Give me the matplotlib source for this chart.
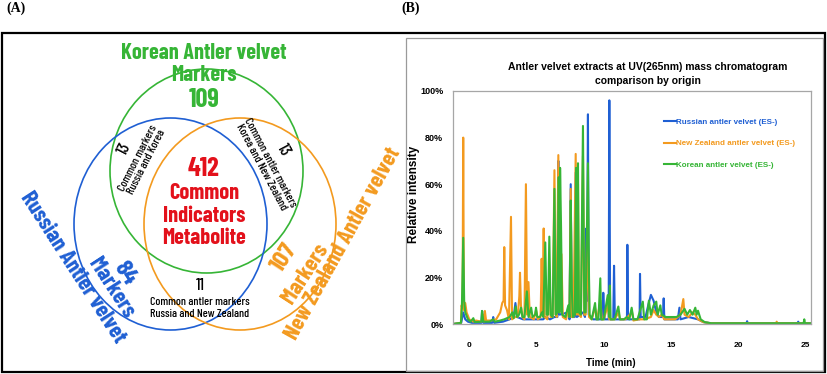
import matplotlib
matplotlib.use("Agg")
import matplotlib.pyplot as plt
from matplotlib.patches import Ellipse, Rectangle

# ---- Venn data (A) ----
venn_names = ["Korean Antler velvet", "Russian Antler velvet", "New Zealand Antler velvet"]
venn_only = [109, 84, 107]
venn_common = 412
pair_counts = [13, 13, 11]  # Russia&Korea, Korea&NZ, Russia&NZ

# ---- chromatogram data (B), time (min) / relative intensity (%) ----
ru_time = [-1.2, -0.6, -0.45, -0.3, -0.1, 0.2, 0.9, 0.95, 1.05, 1.7, 1.78, 1.85, 2.5, 3.0, 3.3, 3.43, 3.55,
           4.0, 4.5, 5.0, 5.5, 5.65, 6.0, 6.33, 6.55, 6.62, 6.7, 7.36, 7.45, 7.54, 7.62, 7.84, 7.91, 8.0, 8.45,
           8.6, 8.7, 8.75, 8.82, 8.88, 9.2, 9.9, 9.96, 10.05, 10.36, 10.41, 10.47, 10.7, 10.76, 10.82, 11.5,
           11.72, 11.75, 11.8, 12.3, 12.66, 12.69, 12.74, 13.1, 13.3, 13.5, 13.7, 13.9, 14.1, 14.4, 14.45, 14.5,
           15.0, 15.5, 15.62, 15.7, 16.3, 17.0, 17.4, 18.0, 20.6, 20.65, 20.7, 24.4, 24.45, 24.5, 25.4]
ru_val = [0, 0.5, 5, 2, 1, 0.5, 0.5, 5.6, 0.5, 0.5, 3, 0.5, 1, 2, 3, 9, 3,
          2, 2, 2, 2, 3, 2, 3, 3, 70, 4, 5, 2, 60, 3, 3, 65, 3, 5,
          3, 41, 10, 90, 4, 2, 2, 13.4, 2, 2, 96, 2, 2, 25, 2, 2,
          2, 34, 2, 2, 2, 21.5, 3, 3, 8, 12.5, 10, 5, 3, 3, 11, 2,
          2, 2, 7, 2, 3, 2, 0.8, 0.3, 0.3, 1.2, 0.3, 0.3, 1, 0.3, 0.3]

nz_time = [-1.2, -0.62, -0.58, -0.5, -0.45, -0.4, -0.3, -0.2, 0.0, 0.3, 0.5, 0.9, 1.0, 1.1, 1.16, 1.25, 1.6,
           2.0, 2.3, 2.45, 2.55, 2.6, 2.66, 2.8, 2.95, 3.1, 3.18, 3.4, 3.6, 3.72, 3.77, 3.84, 3.95, 4.1, 4.21,
           4.3, 4.4, 4.5, 4.8, 4.96, 5.1, 5.3, 5.38, 5.45, 5.53, 5.6, 5.8, 5.95, 6.05, 6.2, 6.33, 6.42, 6.5,
           6.62, 6.7, 6.85, 6.95, 7.2, 7.36, 7.45, 7.54, 7.62, 7.75, 7.91, 8.0, 8.08, 8.15, 8.3, 8.45, 8.55,
           8.65, 8.77, 8.82, 8.9, 9.1, 9.35, 9.5, 9.75, 9.85, 10.0, 10.3, 10.4, 10.8, 11.1, 11.2, 11.6, 12.1,
           12.2, 12.6, 13.0, 13.5, 13.7, 13.9, 14.1, 14.3, 14.5, 14.8, 15.3, 15.7, 15.91, 16.0, 16.3, 16.6,
           16.8, 17.0, 17.4, 18.0, 22.8, 22.85, 22.9, 25.4]
nz_val = [0, 0.5, 8, 7, 80, 6, 9, 5, 2, 1, 1.5, 1, 4, 1, 5.6, 1.5, 1.5,
          2, 5, 9, 10, 33, 8, 6, 2, 46, 2, 3, 3, 12, 22, 8, 3, 2, 60,
          4, 18, 3, 2, 6, 2, 3, 28, 4, 41, 3, 2, 20, 3, 3, 66, 4, 3,
          72.5, 5, 30, 3, 2, 7, 3, 58, 3, 3, 73, 4, 60, 4, 3, 72, 4,
          4, 44, 20, 3, 2, 7, 2, 10, 2, 2, 8, 2, 2, 5, 2, 2, 5,
          1.5, 2, 2, 3, 6, 4, 3, 4, 2, 2, 2, 4, 10.7, 4, 3, 5,
          4, 2, 0.8, 0.3, 0.3, 1, 0.3, 0.3]

kr_time = [-1.2, -0.62, -0.55, -0.45, -0.38, -0.3, -0.1, 0.1, 0.3, 0.4, 0.9, 0.95, 1.05, 1.5, 1.78, 1.9,
           2.3, 2.6, 3.0, 3.2, 3.3, 3.45, 3.55, 3.7, 3.85, 3.95, 4.1, 4.28, 4.4, 4.6, 4.7, 4.9, 4.96, 5.05,
           5.25, 5.4, 5.5, 5.65, 5.75, 5.85, 5.95, 6.05, 6.2, 6.33, 6.42, 6.55, 6.65, 6.7, 6.75, 6.82, 6.9,
           7.15, 7.36, 7.45, 7.54, 7.62, 7.7, 7.85, 7.94, 8.0, 8.08, 8.15, 8.3, 8.45, 8.55, 8.65, 8.82, 8.9,
           8.95, 9.1, 9.35, 9.45, 9.6, 9.74, 9.8, 10.0, 10.29, 10.4, 10.45, 10.5, 10.8, 11.08, 11.2, 11.5,
           11.7, 11.9, 12.07, 12.2, 12.5, 12.9, 13.0, 13.2, 13.35, 13.5, 13.7, 13.9, 14.0, 14.2, 14.3, 14.6,
           15.0, 15.4, 15.7, 16.0, 16.2, 16.4, 16.6, 16.8, 16.9, 17.0, 17.2, 17.5, 18.0, 24.85, 24.9, 24.95, 25.4]
kr_val = [0, 0.5, 7, 37, 10, 5, 2, 1, 2.5, 0.8, 1, 5.6, 1, 1, 2, 1,
          1.5, 2, 3, 5, 2.5, 7.5, 3, 4, 7, 3, 3, 14, 3, 7, 3, 4, 7, 3,
          3, 5, 3, 35, 4, 4, 37.5, 4, 3, 58, 4, 5, 63, 5, 67, 42, 4,
          3, 8, 3, 53, 15, 3, 4, 67, 5, 69, 5, 4, 85, 5, 5, 69, 20,
          4, 2, 9, 2, 2, 19.6, 2, 2, 12.4, 3, 16.5, 2, 2, 7.5, 2, 2,
          3, 2, 7, 2, 2, 9.6, 2, 2, 10, 4, 8, 9.6, 4, 8, 4, 3,
          3, 3, 4, 6.5, 4, 6, 4, 7, 4, 5.7, 2, 0.8, 0.3, 0.3, 2, 0.3, 0.3]

series_labels = ["Russian antler velvet (ES-)", "New Zealand antler velvet (ES-)", "Korean antler velvet (ES-)"]
y_ticks = [0, 20, 40, 60, 80, 100]
x_ticks = [0, 5, 10, 15, 20, 25]

BLUE = "#1f5fd3"
ORANGE = "#f39a1f"
GREEN = "#36b536"
RED = "#e3111b"
NARROW = ["Barlow Condensed", "Archivo Narrow", "DejaVu Sans"]
SANS = ["Liberation Sans", "DejaVu Sans"]

fig = plt.figure(figsize=(8.27, 3.74), dpi=100)

# background axes in pixel coordinates
ax0 = fig.add_axes([0, 0, 1, 1])
ax0.set_xlim(0, 827)
ax0.set_ylim(374, 0)
ax0.axis("off")

ax0.text(6, 2, "(A)", family="Liberation Serif", fontweight="bold", fontsize=10, ha="left", va="top")
ax0.text(401, 2, "(B)", family="Liberation Serif", fontweight="bold", fontsize=10, ha="left", va="top")
ax0.add_patch(Rectangle((2, 33), 823, 339, fill=False, ec="black", lw=1.6))
ax0.add_patch(Rectangle((406, 38), 417, 333, fill=False, ec="#9a9a9a", lw=0.9))

# Venn circles
ax0.add_patch(Ellipse((206.5, 171), 193, 204, fill=False, ec=GREEN, lw=1.2))
ax0.add_patch(Ellipse((170.5, 224), 193, 212, fill=False, ec=BLUE, lw=1.2))
ax0.add_patch(Ellipse((240, 224), 192, 212, fill=False, ec=ORANGE, lw=1.2))

big = dict(family=NARROW, fontweight="bold", ha="center", va="center")

# Korean labels
ax0.text(204, 53, venn_names[0], fontsize=16, color=GREEN, **big)
ax0.text(204, 75, "Markers", fontsize=16, color=GREEN, **big)
ax0.text(204, 100, str(venn_only[0]), fontsize=19, color=GREEN, **big)

# center
ax0.text(204, 169, str(venn_common), fontsize=19, color=RED, **big)
for yy, word in zip([193, 216, 238], ["Common", "Indicators", "Metabolite"]):
    ax0.text(204, yy, word, fontsize=16, color=RED, **big)

# Russian labels
ax0.text(73, 267, venn_names[1], fontsize=16.5, color=BLUE, rotation=-57, rotation_mode="anchor", **big)
ax0.text(111, 288, "Markers", fontsize=16.5, color=BLUE, rotation=-57, rotation_mode="anchor", **big)
ax0.text(125, 273, str(venn_only[1]), fontsize=18, color=BLUE, rotation=-57, rotation_mode="anchor", **big)

# New Zealand labels
ax0.text(343, 244, venn_names[2], fontsize=16.5, color=ORANGE, rotation=61, rotation_mode="anchor", **big)
ax0.text(305, 274, "Markers", fontsize=16.5, color=ORANGE, rotation=57, rotation_mode="anchor", **big)
ax0.text(285, 258, str(venn_only[2]), fontsize=18, color=ORANGE, rotation=57, rotation_mode="anchor", **big)

# pairwise overlaps
small = dict(family=NARROW, fontweight="medium", ha="center", va="center")
ax0.text(124, 149, str(pair_counts[0]), fontsize=12, rotation=63, rotation_mode="anchor", **small)
ax0.text(142, 160, "Common markers\nRussia and Korea", fontsize=8.5, rotation=63, rotation_mode="anchor",
         linespacing=1.0, **small)
ax0.text(283, 150, str(pair_counts[1]), fontsize=12, rotation=-62, rotation_mode="anchor", **small)
ax0.text(266, 165, "Common antler markers\nKorea and New Zealand", fontsize=8.5, rotation=-62,
         rotation_mode="anchor", linespacing=1.0, **small)
ax0.text(200, 285, str(pair_counts[2]), fontsize=12, **small)
ax0.text(200, 302, "Common antler markers", fontsize=8.5, **small)
ax0.text(200, 314, "Russia and New Zealand", fontsize=8.5, **small)

# chromatogram panel
ax = fig.add_axes([453 / 827, 1 - 324 / 374, (811 - 453) / 827, (324 - 91) / 374])
ax.plot(ru_time, ru_val, color=BLUE, lw=1.5, label=series_labels[0])
ax.plot(nz_time, nz_val, color=ORANGE, lw=1.5, label=series_labels[1])
ax.plot(kr_time, kr_val, color=GREEN, lw=1.5, label=series_labels[2])
ax.set_xlim(-1.21, 25.4)
ax.set_ylim(0, 100)
ax.set_yticks(y_ticks)
ax.set_yticklabels([f"{v}%" for v in y_ticks])
ax.set_xticks(x_ticks)
ax.set_xticklabels([str(v) for v in x_ticks])
ax.tick_params(axis="y", length=0, pad=7, labelsize=6.5)
ax.tick_params(axis="x", length=0, pad=13, labelsize=6)
for lab in ax.get_xticklabels() + ax.get_yticklabels():
    lab.set_family(SANS)
    lab.set_fontweight("bold")
for sp in ax.spines.values():
    sp.set_color("#a6a6a6")
    sp.set_linewidth(0.9)

ax.legend(loc="upper left", bbox_to_anchor=(0.588, 0.884), frameon=False, borderpad=0, borderaxespad=0,
          handlelength=1.5, handletextpad=0.1, labelspacing=1.75, labelcolor="linecolor",
          prop={"family": SANS, "weight": "bold", "size": 5.8})

ax0.text(648, 67, "Antler velvet extracts at UV(265nm) mass chromatogram", family=SANS, fontweight="bold",
         fontsize=7.5, ha="center", va="center")
ax0.text(648, 81, "comparison by origin", family=SANS, fontweight="bold", fontsize=7.5, ha="center", va="center")
ax0.text(414, 194, "Relative intensity", family=SANS, fontweight="bold", fontsize=8.5, rotation=90,
         ha="center", va="center")
ax0.text(611, 363, "Time (min)", family=SANS, fontweight="bold", fontsize=7, ha="center", va="center")

fig.savefig("out.png", dpi=100)
